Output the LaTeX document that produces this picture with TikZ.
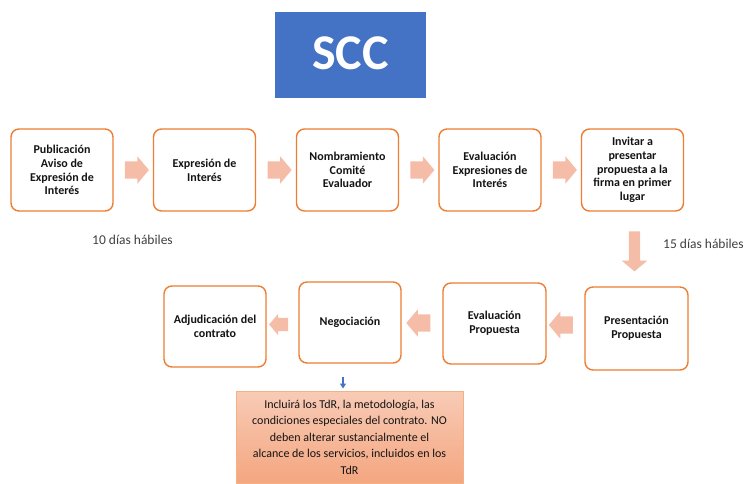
\documentclass[tikz,border=0pt]{standalone}
\usepackage{fontspec}
\setmainfont{Carlito}
\usetikzlibrary{shapes.arrows,calc,arrows.meta}
\definecolor{boxorange}{RGB}{237,125,49}
\definecolor{arrowfill}{RGB}{245,188,168}
\definecolor{sccblue}{RGB}{68,114,196}
\definecolor{notetop}{RGB}{248,203,182}
\definecolor{notebot}{RGB}{244,166,128}
\definecolor{noteedge}{RGB}{244,177,131}
\definecolor{labelgray}{RGB}{64,64,64}
\definecolor{txt}{RGB}{20,20,20}
\begin{document}
\begin{tikzpicture}[x=1pt,y=-1pt,
  stepbox/.style={draw=boxorange, line width=1.4pt, rounded corners=8pt, fill=white,
    align=center, font=\fontsize{12}{13.8}\selectfont\bfseries, text=txt, inner sep=0pt,
    minimum width=102pt, minimum height=82pt},
  blockarrow/.style={single arrow, fill=arrowfill, draw=none, inner xsep=0pt, inner ysep=8.5pt,
    minimum height=24pt, single arrow head extend=5pt,
    single arrow tip angle=100},
  daylabel/.style={font=\fontsize{13.5}{16}\selectfont, text=labelgray, inner sep=0pt},
  notebox/.style={draw=noteedge, line width=1pt, top color=notetop, bottom color=notebot,
    align=center, font=\fontsize{12}{16.5}\selectfont, text=txt, inner sep=0pt,
    minimum width=227pt, minimum height=92pt},
  titlebox/.style={fill=sccblue, text=white, font=\fontsize{50}{54}\selectfont\bfseries,
    minimum width=151pt, minimum height=86pt, inner sep=0pt}
]
\useasboundingbox (0,0) rectangle (748,483);

% title
\node[titlebox, text depth=3pt] (title) at (350.5,55) {SCC};

% top row
\node[stepbox] (b1) at (62,170) {Publicación\\Aviso de\\Expresión de\\Interés};
\node[stepbox] (b2) at (204.5,170) {Expresión de\\Interés};
\node[stepbox] (b3) at (347.5,170) {Nombramiento\\Comité\\Evaluador};
\node[stepbox] (b4) at (490,170) {Evaluación\\Expresiones de\\Interés};
\node[stepbox] (b5) at (632.5,170) {Invitar a\\presentar\\propuesta a la\\firma en primer\\lugar};

% bottom row
\node[stepbox, minimum height=81pt] (bA) at (215,326.5) {Adjudicación del\\contrato};
\node[stepbox, minimum height=81pt] (bB) at (350,322.5) {Negociación};
\node[stepbox, minimum width=103pt, minimum height=81pt] (bC) at (494.5,323.5) {Evaluación\\Propuesta};
\node[stepbox, minimum width=103pt, minimum height=83pt] (bD) at (636.5,328.5) {Presentación\\Propuesta};

% block arrows, top row
\node[blockarrow] (a12) at ($(b1.east)!0.5!(b2.west)$) {};
\node[blockarrow] (a23) at ($(b2.east)!0.5!(b3.west)$) {};
\node[blockarrow] (a34) at ($(b3.east)!0.5!(b4.west)$) {};
\node[blockarrow] (a45) at ($(b4.east)!0.5!(b5.west)$) {};

% down arrow
\node[blockarrow, shape border rotate=270, minimum height=40pt, inner ysep=0pt, inner xsep=5.5pt,
  single arrow head extend=7pt] (a5D) at ($(b5.south)!0.5!(bD.north)$) {};

% bottom arrows (pointing left)
\node[blockarrow, shape border rotate=180] (aDC) at ($(bD.west)!0.5!(bC.east)+(-1,-1)$) {};
\node[blockarrow, shape border rotate=180] (aCB) at ($(bC.west)!0.5!(bB.east)$) {};
\node[blockarrow, shape border rotate=180, minimum height=19pt, inner ysep=6.5pt,
  single arrow head extend=4pt] (aBA) at ($(bB.west)!0.5!(bA.east)+(-1,0)$) {};

% day labels
\node[daylabel] (d10) at (132.5,240) {10 días hábiles};
\node[daylabel, anchor=west] (d15) at (663,244) {15 días hábiles};

% note box
\node[notebox] (note) at (349.5,437) {Incluirá los TdR, la metodología, las\\condiciones especiales del contrato. NO\\deben alterar sustancialmente el\\alcance de los servicios, incluidos en los\\TdR};

% blue arrow
\coordinate (bs) at ($(bB.south)+(-7,13)$);
\draw[sccblue, line width=1.2pt, -{Triangle[width=6pt,length=5pt]}, shorten >=2pt] (bs) -- (bs |- note.north);
\end{tikzpicture}
\end{document}
